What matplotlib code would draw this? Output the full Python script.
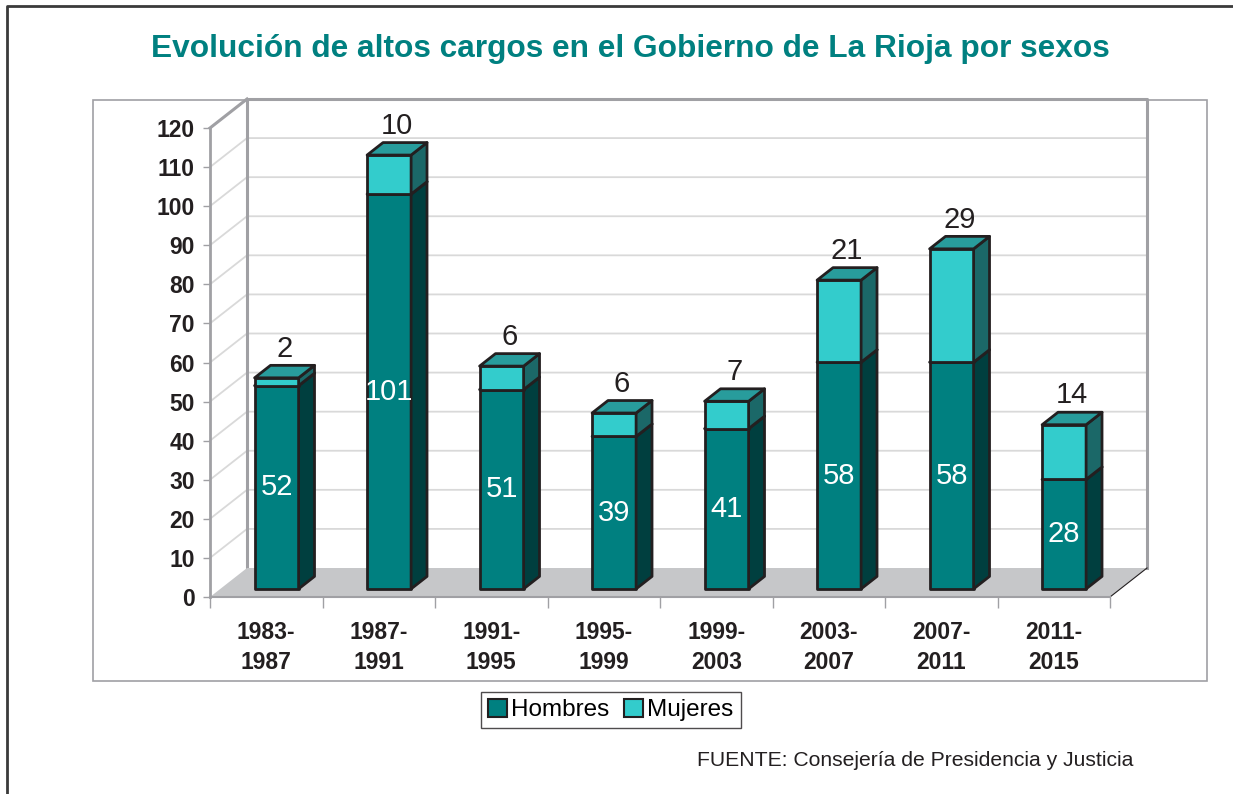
import numpy as np
import matplotlib.pyplot as plt
from matplotlib.patches import Polygon, Patch, Rectangle
from matplotlib.lines import Line2D

plt.rcParams['font.family'] = ['Liberation Sans', 'DejaVu Sans']

# =========================
# 数据
# =========================
periodos = ['1983-\n1987', '1987-\n1991', '1991-\n1995', '1995-\n1999',
            '1999-\n2003', '2003-\n2007', '2007-\n2011', '2011-\n2015']
hombres = [52, 101, 51, 39, 41, 58, 58, 28]
mujeres = [2, 10, 6, 6, 7, 21, 29, 14]
y_ticks = list(range(0, 121, 10))

# colores (frente, lado, arriba)
col_h = ('#008080', '#003f3f', '#1f8f8f')
col_m = ('#33cccc', '#1b6868', '#289c9c')
borde = '#231f20'
gris = '#a0a0a4'

# =========================
# figura y ejes (plano frontal)
# =========================
W, H = 1233, 794
fig = plt.figure(figsize=(W / 100, H / 100), dpi=100)
ax = fig.add_axes([210 / W, 1 - 597 / H, 900 / W, 469 / H])
n = len(periodos)
ax.set_xlim(0, n)
ax.set_ylim(0, 120)

# profundidad en unidades de datos
ddx = 37 / (900 / n)
ddy = 29 / (469 / 120)
f0, f1 = 0.28, 0.71
w = 0.391

# pared del fondo y pared lateral
ax.add_patch(Polygon([(ddx, ddy), (n + ddx, ddy), (n + ddx, 120 + ddy), (ddx, 120 + ddy)],
                     closed=True, facecolor='white', edgecolor='none', zorder=0, clip_on=False))
for v in y_ticks[1:]:
    ax.plot([0, ddx, n + ddx], [v, v + ddy, v + ddy], color='#d9d9d9', lw=1.3,
            zorder=1, clip_on=False)
ax.plot([ddx, ddx, n + ddx, n + ddx], [ddy, 120 + ddy, 120 + ddy, ddy], color=gris,
        lw=2.2, zorder=1.5, clip_on=False)
ax.plot([0, ddx], [120, 120 + ddy], color=gris, lw=2.2, zorder=1.5, clip_on=False)

# suelo
ax.add_patch(Polygon([(0, 0), (n, 0), (n + ddx, ddy), (ddx, ddy)], closed=True,
                     facecolor='#c6c7c9', edgecolor='none', zorder=2, clip_on=False))
ax.plot([n, n + ddx], [0, ddy], color=borde, lw=0.8, zorder=2.1, clip_on=False)


def caja(xc, b, t, cols, z):
    x0, x1 = xc - w / 2, xc + w / 2
    sx, sy = (f1 - f0) * ddx, (f1 - f0) * ddy
    yb, yt = b + f0 * ddy, t + f0 * ddy
    kw = dict(closed=True, edgecolor=borde, lw=2, joinstyle='round', zorder=z, clip_on=False)
    ax.add_patch(Polygon([(x0, yb), (x1, yb), (x1, yt), (x0, yt)], facecolor=cols[0], **kw))
    ax.add_patch(Polygon([(x1, yb), (x1 + sx, yb + sy), (x1 + sx, yt + sy), (x1, yt)],
                         facecolor=cols[1], **kw))
    ax.add_patch(Polygon([(x0, yt), (x1, yt), (x1 + sx, yt + sy), (x0 + sx, yt + sy)],
                         facecolor=cols[2], **kw))


for i, (h, m) in enumerate(zip(hombres, mujeres)):
    xc = i + 0.5 + f0 * ddx
    caja(xc, 0, h, col_h, 3 + i)
    caja(xc, h, h + m, col_m, 3 + i + 0.5)
    ax.text(xc, h / 2 + f0 * ddy, str(h), color='white', fontsize=21,
            ha='center', va='center', zorder=20)
    ax.text(xc + (f1 - f0) * ddx / 2, h + m + f0 * ddy + 7.5, str(m), color=borde,
            fontsize=21, ha='center', va='center', zorder=20)

# ejes
for s in ['top', 'right']:
    ax.spines[s].set_visible(False)
ax.spines['left'].set_color(gris)
ax.spines['left'].set_linewidth(2)
ax.spines['bottom'].set_color(gris)
ax.spines['bottom'].set_linewidth(1.5)
ax.spines['left'].set_zorder(2.5)
ax.spines['bottom'].set_zorder(2.5)

ax.set_yticks(y_ticks)
ax.set_yticklabels([str(v) for v in y_ticks], fontsize=16.5, fontweight='bold', color=borde)
ax.tick_params(axis='y', length=5, width=1, color=gris, pad=6)

ax.set_xticks(np.arange(n) + 0.5)
ax.set_xticklabels(periodos, fontsize=16.5, fontweight='bold', color=borde, linespacing=1.4)
ax.set_xticks(np.arange(n + 1), minor=True)
ax.tick_params(axis='x', which='major', length=0, pad=17)
ax.tick_params(axis='x', which='minor', length=8, width=1, color=gris)
ax.patch.set_visible(False)

# textos
fig.text(630 / W, 1 - 49 / H, 'Evolución de altos cargos en el Gobierno de La Rioja por sexos',
         ha='center', va='center', fontsize=22.8, fontweight='bold', color='#008080')
fig.text(1133 / W, 1 - 761 / H, 'FUENTE: Consejería de Presidencia y Justicia',
         ha='right', va='center', fontsize=15.2, color=borde)

leg = fig.legend(handles=[Patch(facecolor=col_h[0], edgecolor=borde, lw=1.5, label='Hombres'),
                          Patch(facecolor=col_m[0], edgecolor=borde, lw=1.5, label='Mujeres')],
                 loc='center', bbox_to_anchor=(611 / W, 1 - 710 / H), ncol=2, fontsize=17.5,
                 frameon=True, fancybox=False, handlelength=0.75, handleheight=0.75,
                 handletextpad=0.2, columnspacing=0.6, borderpad=0.3, borderaxespad=0)
leg.get_frame().set_edgecolor(borde)
leg.get_frame().set_linewidth(1)

# marcos
fig.add_artist(Rectangle((93 / W, 1 - 681 / H), (1207 - 93) / W, (681 - 100) / H,
                         transform=fig.transFigure, fill=False, edgecolor=gris, lw=1.2))
fig.add_artist(Line2D([7 / W, 7 / W, 1], [0, 1 - 6 / H, 1 - 6 / H],
                      transform=fig.transFigure, color='#3a3a3a', lw=2))

fig.savefig('out.png', dpi=100)
